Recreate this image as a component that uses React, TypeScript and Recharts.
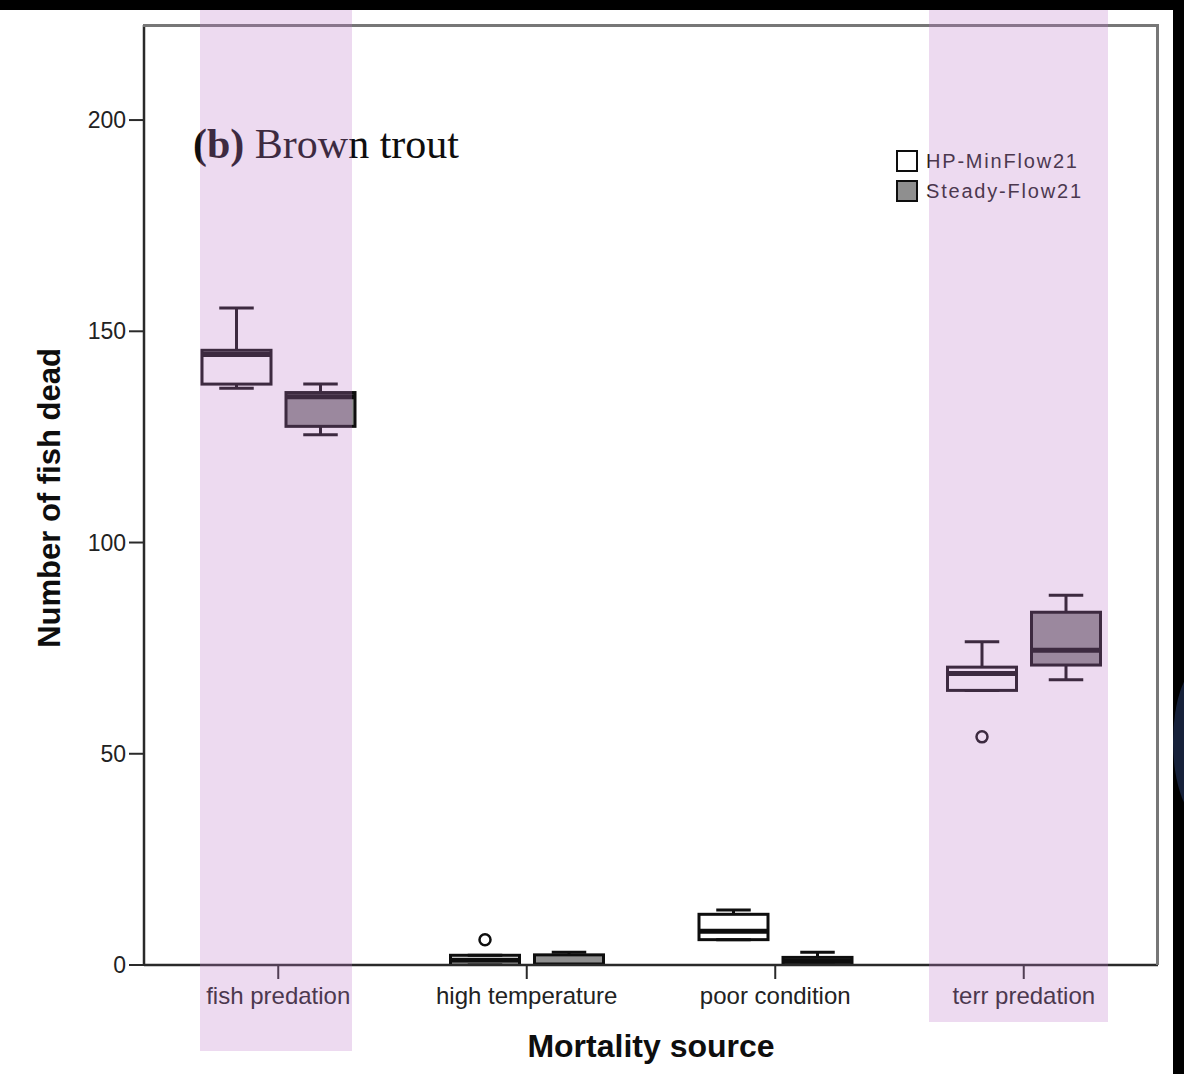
import React from 'react';
import { BarChart, Bar, XAxis, YAxis } from 'recharts';

// values
const categories = ['fish predation', 'high temperature', 'poor condition', 'terr predation'];

const hpMin = [136.5, 0, 6, 65];
const hpQ1 = [137.5, 0, 6, 65];
const hpMedian = [144.5, 1.1, 8, 69];
const hpQ3 = [145.5, 2.3, 12, 70.5];
const hpMax = [155.5, 2.3, 13, 76.5];
const hpOutliers: number[][] = [[], [6], [], [54]];

const sfMin = [125.5, 0, 0, 67.5];
const sfQ1 = [127.5, 0, 0, 71];
const sfMedian = [134.5, 0, 0.9, 74.5];
const sfQ3 = [135.5, 2.4, 1.8, 83.5];
const sfMax = [137.5, 3, 3, 87.5];
const sfOutliers: number[][] = [[], [], [], []];

const yTicks = [0, 50, 100, 150, 200];

const data = categories.map((name, i) => ({
  name,
  hpMax: hpMax[i],
  sfMax: sfMax[i],
  hp: { min: hpMin[i], q1: hpQ1[i], median: hpMedian[i], q3: hpQ3[i], max: hpMax[i], out: hpOutliers[i] },
  sf: { min: sfMin[i], q1: sfQ1[i], median: sfMedian[i], q3: sfQ3[i], max: sfMax[i], out: sfOutliers[i] },
}));

const INK = '#0e0e0e';
const SANS = '"Liberation Sans", Arial, sans-serif';

// the bar runs from 0 to the whisker max, so the other stats are placed on the same linear scale
const BoxPlot = (props: any) => {
  const { x, y, width, height, stats, fillColor } = props;
  if (!stats || !height) return null;
  const pix = (v: number) => y + height - (v / stats.max) * height;
  const cx = x + width / 2;
  const cap = width / 4;
  return (
    <g>
      <line x1={cx} x2={cx} y1={pix(stats.max)} y2={pix(stats.q3)} stroke={INK} strokeWidth={3} />
      <line x1={cx} x2={cx} y1={pix(stats.q1)} y2={pix(stats.min)} stroke={INK} strokeWidth={3} />
      <rect
        x={x}
        y={pix(stats.q3)}
        width={width}
        height={Math.max(pix(stats.q1) - pix(stats.q3), 0.5)}
        fill={fillColor}
        stroke={INK}
        strokeWidth={3}
      />
      <line x1={x} x2={x + width} y1={pix(stats.median)} y2={pix(stats.median)} stroke={INK} strokeWidth={5} />
      <line x1={cx - cap} x2={cx + cap} y1={pix(stats.max)} y2={pix(stats.max)} stroke={INK} strokeWidth={3} />
      <line x1={cx - cap} x2={cx + cap} y1={pix(stats.min)} y2={pix(stats.min)} stroke={INK} strokeWidth={3} />
      {stats.out.map((v: number, i: number) => (
        <circle key={i} cx={cx} cy={pix(v)} r={5.5} fill="none" stroke={INK} strokeWidth={2.5} />
      ))}
    </g>
  );
};

const YTitle = (props: any) => {
  const { viewBox } = props;
  const cy = viewBox.y + viewBox.height / 2 + 3;
  return (
    <text
      x={60}
      y={cy}
      transform={`rotate(-90 60 ${cy})`}
      textAnchor="middle"
      fontFamily={SANS}
      fontWeight="bold"
      fontSize={31}
      fill={INK}
    >
      Number of fish dead
    </text>
  );
};

const XTitle = (props: any) => {
  const { viewBox } = props;
  return (
    <text
      x={viewBox.x + viewBox.width / 2}
      y={viewBox.y + 92}
      textAnchor="middle"
      fontFamily={SANS}
      fontWeight="bold"
      fontSize={32}
      fill={INK}
    >
      Mortality source
    </text>
  );
};

const band = (left: number, width: number, bottom: number) => (
  <div
    style={{
      position: 'absolute',
      left,
      top: 10,
      width,
      height: bottom - 10,
      background: 'rgba(190,120,200,0.27)',
      pointerEvents: 'none',
    }}
  />
);

export default function App() {
  return (
    <div style={{ position: 'absolute', left: 0, top: 0, width: 1184, height: 1074, background: '#fff', overflow: 'hidden' }}>
      <BarChart
        width={1184}
        height={1074}
        data={data}
        margin={{ top: 25, right: 26, left: 0, bottom: 0 }}
        barSize={69}
        barGap={15}
      >
        <XAxis
          dataKey="name"
          height={109}
          padding={{ left: 10, right: 10 }}
          tickSize={14}
          tickMargin={8}
          tick={{ fontFamily: SANS, fontSize: 24, fill: '#222' }}
          axisLine={{ stroke: '#2a2a2a', strokeWidth: 2.5 }}
          tickLine={{ stroke: '#2a2a2a', strokeWidth: 2 }}
          label={<XTitle />}
        />
        <YAxis
          width={144}
          domain={[0, 222.5]}
          ticks={yTicks}
          allowDataOverflow
          tickSize={15}
          tickMargin={3}
          tick={{ fontFamily: SANS, fontSize: 23, fill: '#222' }}
          axisLine={{ stroke: '#2a2a2a', strokeWidth: 2.5 }}
          tickLine={{ stroke: '#2a2a2a', strokeWidth: 2 }}
          label={<YTitle />}
        />
        <Bar
          dataKey="hpMax"
          name="HP-MinFlow21"
          isAnimationActive={false}
          shape={(p: any) => <BoxPlot {...p} stats={p.payload.hp} fillColor="#ffffff" />}
        />
        <Bar
          dataKey="sfMax"
          name="Steady-Flow21"
          isAnimationActive={false}
          shape={(p: any) => <BoxPlot {...p} stats={p.payload.sf} fillColor="#8f8f8f" />}
        />
      </BarChart>

      {/* top and right edges of the plot frame */}
      <div style={{ position: 'absolute', left: 143, top: 24, width: 1016, height: 3, background: '#777' }} />
      <div style={{ position: 'absolute', left: 1156, top: 24, width: 3, height: 941, background: '#777' }} />

      <div
        style={{
          position: 'absolute',
          left: 193,
          top: 120,
          fontFamily: '"Liberation Serif", "Times New Roman", serif',
          fontSize: 42,
          color: INK,
          whiteSpace: 'nowrap',
        }}
      >
        <b>(b)</b> Brown trout
      </div>

      <div style={{ position: 'absolute', left: 896, top: 146, fontFamily: SANS, fontSize: 20, letterSpacing: 1.8, color: '#222' }}>
        {[
          { label: 'HP-MinFlow21', fill: '#ffffff' },
          { label: 'Steady-Flow21', fill: '#8f8f8f' },
        ].map((it) => (
          <div key={it.label} style={{ display: 'flex', alignItems: 'center', height: 30 }}>
            <span
              style={{
                display: 'inline-block',
                width: 18,
                height: 18,
                border: `2px solid ${INK}`,
                background: it.fill,
                marginRight: 8,
              }}
            />
            {it.label}
          </div>
        ))}
      </div>

      {band(200, 152, 1051)}
      {band(929, 179, 1022)}

      <div style={{ position: 'absolute', left: 0, top: 0, width: 1184, height: 10, background: '#000' }} />
      <div style={{ position: 'absolute', left: 1173, top: 0, width: 11, height: 1074, background: '#000' }} />
      <div
        style={{
          position: 'absolute',
          left: 1173,
          top: 664,
          width: 60,
          height: 156,
          borderRadius: '50%',
          background: '#16213a',
        }}
      />
    </div>
  );
}
